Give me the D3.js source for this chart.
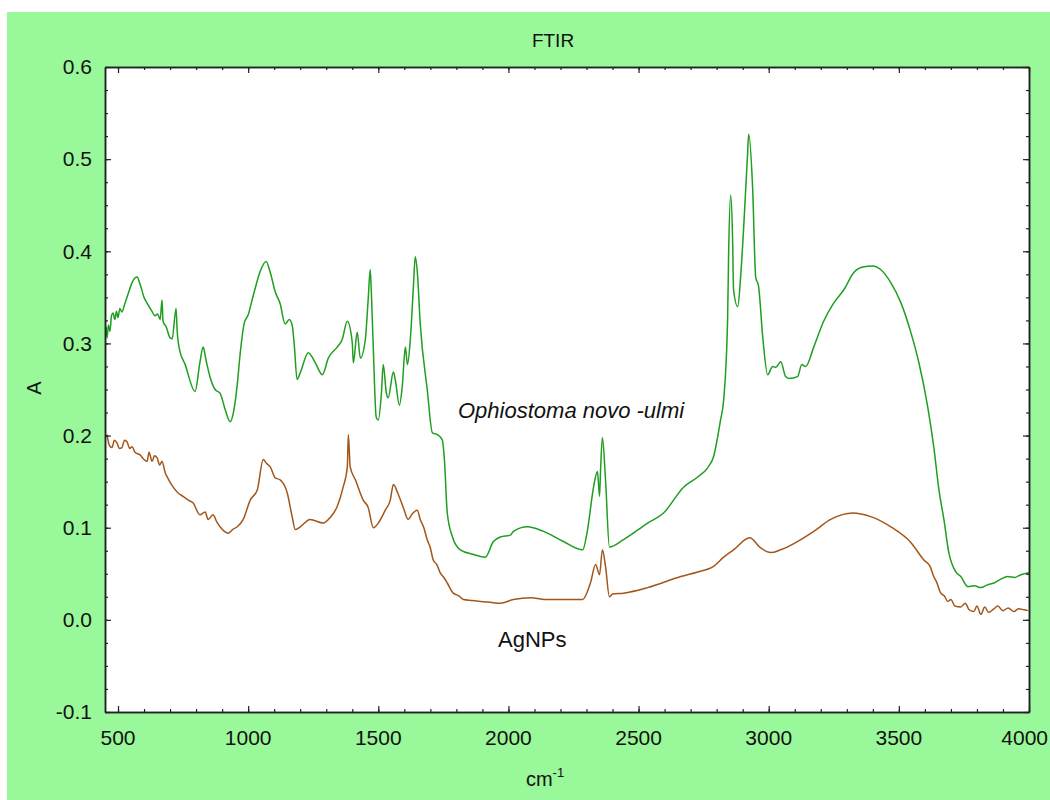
<!DOCTYPE html>
<html><head><meta charset="utf-8">
<script src="https://cdn.jsdelivr.net/npm/d3@7"></script>
<style>body{margin:0;background:#fff;} svg{display:block;} text{font-family:"Liberation Sans",Arial,sans-serif;fill:#111;}</style>
</head><body><svg id="c" width="1050" height="800"></svg>
<script>
// ---- data ----
const title = "FTIR";
const xLabel = "cm";
const xLabelSup = "-1";
const yLabel = "A";
const xTicks = [500,1000,1500,2000,2500,3000,3500,4000];
const xTickLabels = ["500","1000","1500","2000","2500","3000","3500","4000"];
const yTicks = [-0.1,0,0.1,0.2,0.3,0.4,0.5,0.6];
const yTickLabels = ["-0.1","0.0","0.1","0.2","0.3","0.4","0.5","0.6"];
const xDomain = [450, 4000];
const yDomain = [-0.1, 0.6];

const fungusName = "Ophiostoma novo -ulmi";
const fungusWn = [454,458,463,469,475,481,488,494,500,507,515,525,538,554,573,585,600,615,630,642,652,662,669,673,685,700,708,723,727,735,758,796,815,827,838,854,873,892,912,931,942,958,969,985,1000,1015,1031,1046,1069,1085,1104,1123,1142,1158,1169,1177,1188,1200,1231,1258,1285,1308,1342,1361,1381,1400,1404,1419,1431,1450,1461,1469,1473,1481,1492,1500,1512,1519,1531,1538,1558,1565,1581,1592,1604,1612,1623,1635,1642,1650,1661,1688,1708,1727,1746,1754,1765,1785,1815,1865,1911,1942,1969,2008,2019,2073,2135,2211,2285,2304,2327,2342,2350,2354,2361,2373,2388,2442,2535,2596,2673,2727,2765,2788,2815,2827,2842,2846,2854,2861,2865,2881,2892,2904,2919,2923,2938,2950,2961,2977,2996,3015,3027,3046,3065,3077,3111,3127,3142,3173,3211,3250,3288,3327,3361,3400,3431,3469,3508,3546,3577,3611,3634,3654,3673,3692,3719,3738,3765,3790,3815,3840,3865,3890,3919,3945,3969,4000];
const fungusAbs = [0.318,0.306,0.320,0.313,0.330,0.333,0.326,0.335,0.328,0.338,0.334,0.342,0.353,0.366,0.372,0.364,0.350,0.342,0.335,0.330,0.332,0.326,0.347,0.324,0.318,0.306,0.305,0.338,0.315,0.295,0.277,0.248,0.280,0.296,0.282,0.263,0.250,0.246,0.228,0.215,0.223,0.255,0.288,0.322,0.331,0.347,0.364,0.378,0.389,0.377,0.356,0.343,0.321,0.326,0.320,0.299,0.261,0.268,0.290,0.279,0.266,0.284,0.296,0.304,0.324,0.301,0.279,0.312,0.284,0.304,0.347,0.380,0.358,0.293,0.220,0.217,0.246,0.277,0.246,0.241,0.269,0.261,0.233,0.253,0.296,0.277,0.304,0.362,0.394,0.377,0.322,0.250,0.203,0.201,0.195,0.174,0.116,0.090,0.076,0.071,0.068,0.085,0.090,0.092,0.096,0.101,0.096,0.085,0.076,0.098,0.144,0.161,0.134,0.163,0.198,0.152,0.079,0.087,0.105,0.116,0.144,0.155,0.165,0.177,0.217,0.239,0.326,0.398,0.461,0.416,0.358,0.340,0.372,0.427,0.507,0.527,0.470,0.372,0.362,0.307,0.266,0.275,0.274,0.280,0.264,0.262,0.264,0.277,0.275,0.296,0.324,0.344,0.358,0.377,0.383,0.384,0.380,0.366,0.344,0.312,0.279,0.231,0.188,0.141,0.109,0.073,0.052,0.047,0.036,0.037,0.035,0.038,0.040,0.044,0.047,0.046,0.049,0.051];

const agName = "AgNPs";
const agWn = [458,466,477,486,496,505,515,525,535,545,554,565,585,600,612,619,631,640,650,660,669,681,695,712,730,750,770,788,815,835,846,865,880,892,923,940,958,981,1008,1035,1058,1070,1085,1104,1123,1150,1169,1181,1200,1238,1288,1315,1342,1365,1381,1385,1392,1412,1442,1461,1481,1500,1527,1546,1558,1577,1596,1615,1630,1650,1661,1675,1688,1700,1711,1725,1738,1752,1765,1788,1810,1827,1860,1892,1930,1969,2019,2085,2150,2211,2285,2315,2335,2350,2361,2373,2388,2400,2442,2535,2662,2727,2788,2827,2865,2927,2969,3008,3046,3173,3238,3323,3392,3469,3546,3596,3620,3634,3645,3661,3675,3688,3700,3715,3738,3755,3770,3788,3800,3815,3830,3845,3865,3880,3900,3920,3942,3960,3980,3996];
const agAbs = [0.201,0.190,0.187,0.195,0.192,0.186,0.187,0.195,0.193,0.186,0.188,0.182,0.179,0.174,0.172,0.182,0.172,0.178,0.176,0.168,0.172,0.160,0.152,0.144,0.138,0.134,0.130,0.127,0.114,0.117,0.109,0.114,0.106,0.101,0.094,0.098,0.101,0.109,0.130,0.141,0.174,0.170,0.166,0.154,0.152,0.138,0.112,0.098,0.101,0.109,0.105,0.111,0.123,0.144,0.166,0.201,0.166,0.152,0.130,0.122,0.100,0.105,0.119,0.130,0.147,0.136,0.122,0.109,0.115,0.119,0.109,0.100,0.087,0.078,0.065,0.060,0.051,0.046,0.040,0.029,0.026,0.022,0.021,0.020,0.019,0.018,0.022,0.024,0.022,0.022,0.022,0.040,0.060,0.049,0.076,0.058,0.025,0.028,0.029,0.035,0.047,0.052,0.058,0.068,0.076,0.089,0.078,0.073,0.076,0.096,0.109,0.116,0.112,0.101,0.084,0.065,0.058,0.047,0.041,0.029,0.026,0.020,0.022,0.015,0.014,0.018,0.011,0.009,0.015,0.006,0.014,0.008,0.012,0.015,0.010,0.013,0.009,0.012,0.011,0.010,0.010,0.009];

// ---- layout ----
const svg = d3.select("#c");
const M = {left:105, top:67, right:1029, bottom:712};
svg.append("rect").attr("x",7).attr("y",12).attr("width",1043).attr("height",788).attr("fill","#99f899");
svg.append("rect").attr("x",M.left).attr("y",M.top).attr("width",M.right-M.left).attr("height",M.bottom-M.top).attr("fill","#fff");

const x = d3.scaleLinear().domain(xDomain).range([M.left, M.right]);
const y = d3.scaleLinear().domain(yDomain).range([M.bottom, M.top]);

svg.append("clipPath").attr("id","pc").append("rect")
  .attr("x",M.left).attr("y",M.top).attr("width",M.right-M.left).attr("height",M.bottom-M.top);

const line = d3.line().curve(d3.curveMonotoneX).x(d=>x(d[0])).y(d=>y(d[1]));
const g = svg.append("g").attr("clip-path","url(#pc)");
g.append("path").datum(fungusWn.map((w,i)=>[w,fungusAbs[i]]))
  .attr("d",line).attr("fill","none").attr("stroke","#1f9e1f").attr("stroke-width",1.5).attr("stroke-linejoin","round");
g.append("path").datum(agWn.map((w,i)=>[w,agAbs[i]]))
  .attr("d",line).attr("fill","none").attr("stroke","#a3561a").attr("stroke-width",1.5).attr("stroke-linejoin","round");

// axes (ticks inward)
const axCol = "#222";
const minorX = d3.range(500, 4001, 100);
const minorY = d3.range(-0.1, 0.6001, 0.025);
function addAxis(axis, transform){
  const a = svg.append("g").attr("transform",transform).call(axis);
  a.select(".domain").attr("stroke",axCol).attr("stroke-width",1.5);
  a.selectAll(".tick line").attr("stroke",axCol).attr("stroke-width",1.2);
  a.selectAll("text").remove();
  return a;
}
addAxis(d3.axisBottom(x).tickValues(minorX).tickSize(-3).tickSizeOuter(0), `translate(0,${M.bottom})`);
addAxis(d3.axisTop(x).tickValues(minorX).tickSize(-3).tickSizeOuter(0), `translate(0,${M.top})`);
addAxis(d3.axisLeft(y).tickValues(minorY).tickSize(-3).tickSizeOuter(0), `translate(${M.left},0)`);
addAxis(d3.axisRight(y).tickValues(minorY).tickSize(-3).tickSizeOuter(0), `translate(${M.right},0)`);
addAxis(d3.axisBottom(x).tickValues(xTicks).tickSize(-6).tickSizeOuter(0), `translate(0,${M.bottom})`);
addAxis(d3.axisTop(x).tickValues(xTicks).tickSize(-6).tickSizeOuter(0), `translate(0,${M.top})`);
addAxis(d3.axisLeft(y).tickValues(yTicks).tickSize(-6).tickSizeOuter(0), `translate(${M.left},0)`);
addAxis(d3.axisRight(y).tickValues(yTicks).tickSize(-6).tickSizeOuter(0), `translate(${M.right},0)`);

// tick labels (last one kept inside the frame)
const lastX = xTicks.length - 1;
svg.append("g").selectAll("text").data(xTicks).join("text")
  .attr("x",(d,i)=> i===lastX ? 1048 : x(d)).attr("y",M.bottom+33)
  .attr("text-anchor",(d,i)=> i===lastX ? "end" : "middle")
  .attr("font-size",21).text((d,i)=>xTickLabels[i]);
svg.append("g").selectAll("text").data(yTicks).join("text")
  .attr("x",M.left-13).attr("y",d=>y(d)).attr("dy","0.35em").attr("text-anchor","end")
  .attr("font-size",21).text((d,i)=>yTickLabels[i]);

// titles
svg.append("text").attr("x",553).attr("y",47).attr("text-anchor","middle").attr("font-size",19).text(title);
const xl = svg.append("text").attr("x",545).attr("y",786).attr("text-anchor","middle").attr("font-size",20);
xl.append("tspan").text(xLabel);
xl.append("tspan").attr("font-size",13).attr("dy",-9).text(xLabelSup);
svg.append("text").attr("transform","translate(41,388) rotate(-90)").attr("text-anchor","middle").attr("font-size",20).text(yLabel);

// annotations
svg.append("text").attr("x",458).attr("y",418).attr("font-size",22).attr("font-style","italic").text(fungusName);
svg.append("text").attr("x",498).attr("y",647).attr("font-size",22).text(agName);
</script></body></html>
